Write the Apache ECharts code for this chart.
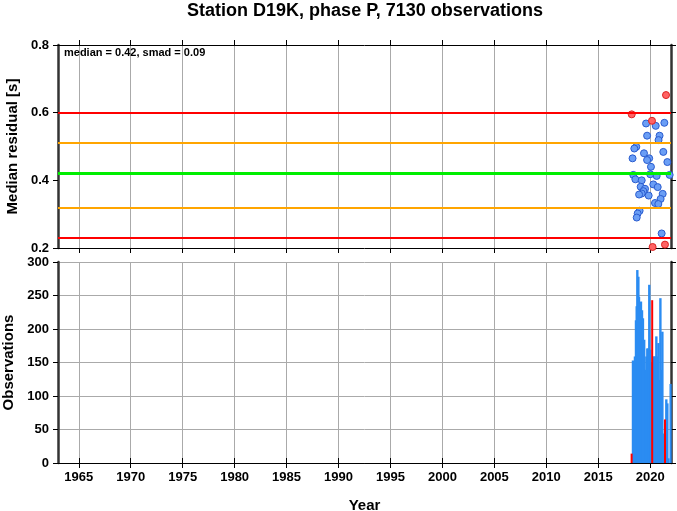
<!DOCTYPE html>
<html><head><meta charset="utf-8">
<script src="https://cdn.jsdelivr.net/npm/echarts@6/dist/echarts.min.js"></script>
<style>html,body{margin:0;padding:0;background:#fff}#c{width:677px;height:511px}</style>
</head><body><div id="c"></div>
<script>
const titleText = 'Station D19K, phase P, 7130 observations';
const annotationText = 'median = 0.42, smad = 0.09';
const medianValue = 0.416;
const smadValue = 0.092;
const yearTicks = [1965,1970,1975,1980,1985,1990,1995,2000,2005,2010,2015,2020];

const blueYears = [2019.6,2020.53,2021.36,2019.7,2020.9,2020.8,2018.66,2018.47,2021.26,2019.4,2018.3,2019.9,2019.7,2021.65,2020.07,2018.37,2020.0,2020.62,2021.87,2018.57,2019.18,2020.3,2019.08,2020.72,2019.5,2019.34,2019.18,2018.93,2019.85,2021.2,2021.0,2020.46,2020.78,2018.98,2018.79,2018.70,2021.1];
const blueResiduals = [0.568,0.561,0.570,0.532,0.532,0.519,0.499,0.494,0.484,0.480,0.465,0.465,0.460,0.454,0.440,0.416,0.418,0.413,0.416,0.403,0.400,0.388,0.381,0.380,0.375,0.368,0.361,0.358,0.355,0.360,0.345,0.333,0.330,0.310,0.302,0.290,0.243];
const redYears = [2021.52,2018.22,2020.17,2020.23,2021.42];
const redResiduals = [0.652,0.595,0.576,0.203,0.210];

const blueBarYears = [2018.32,2018.42,2018.51,2018.61,2018.68,2018.74,2018.84,2018.90,2018.99,2019.09,2019.19,2019.28,2019.40,2019.51,2019.61,2019.70,2019.80,2019.89,2019.99,2020.07,2020.28,2020.38,2020.48,2020.57,2020.67,2020.77,2020.86,2020.96,2021.05,2021.15,2021.24,2021.53,2021.63,2021.73,2021.95];
const blueBarCounts = [153,121,159,213,234,288,278,248,228,241,228,216,184,139,159,171,171,266,169,150,159,159,159,189,159,179,124,246,139,196,44,95,89,7,118];
const redBarYears = [2018.21,2020.19,2021.42];
const redBarCounts = [14,243,65];

const zip = (a, b) => a.map((v, i) => [v, b[i]]);
const FONT = 'Liberation Sans';
const tickStyle = {show: true, inside: false, length: 5, lineStyle: {color: '#000', width: 1}};
const frameX = {show: true, lineStyle: {color: '#000', width: 1}};
const frameY = {show: true, lineStyle: {color: '#333', width: 2.5}};
const gridLine = {show: true, lineStyle: {color: '#aaa', width: 1}};
const labelStyle = {color: '#000', fontFamily: FONT, fontWeight: 'bold', fontSize: 13};
const nameStyle = {color: '#000', fontFamily: FONT, fontWeight: 'bold', fontSize: 15};

function xAxisDef(gridIndex, position, withLabels, withSplit) {
  return {
    type: 'value', gridIndex, position, min: 1963, max: 2022,
    splitNumber: 12, minInterval: 5, maxInterval: 5,
    axisLine: frameX,
    axisTick: Object.assign({}, tickStyle, {customValues: yearTicks}),
    axisLabel: withLabels ? Object.assign({}, labelStyle, {margin: 8, customValues: yearTicks, formatter: v => String(v)}) : {show: false},
    splitLine: withSplit ? gridLine : {show: false},
    name: withLabels ? 'Year' : '', nameLocation: 'middle', nameGap: 35, nameTextStyle: nameStyle
  };
}
function yAxisDef(gridIndex, position, min, max, interval, withLabels, withSplit, name, fmt) {
  return {
    type: 'value', gridIndex, position, min, max, interval,
    axisLine: frameY,
    axisTick: tickStyle,
    axisLabel: withLabels ? Object.assign({}, labelStyle, {margin: 9, formatter: fmt}) : {show: false},
    splitLine: withSplit ? gridLine : {show: false},
    name: name || '', nameLocation: 'middle', nameGap: 38, nameTextStyle: nameStyle
  };
}

const chart = echarts.init(document.getElementById('c'), null, {renderer: 'canvas'});
const limitLine = (v, color, w) => ({yAxis: v, lineStyle: {color, width: w, type: 'solid'}});
chart.setOption({
  animation: false,
  backgroundColor: '#fff',
  grid: [
    {left: 58, right: 6, top: 45, height: 203, containLabel: false, outerBoundsMode: 'none'},
    {left: 58, right: 6, top: 262, height: 201, containLabel: false, outerBoundsMode: 'none'}
  ],
  xAxis: [
    xAxisDef(0, 'bottom', false, true),
    xAxisDef(0, 'top', false, false),
    xAxisDef(1, 'bottom', true, true),
    xAxisDef(1, 'top', false, false)
  ],
  yAxis: [
    yAxisDef(0, 'left', 0.2, 0.8, 0.2, true, false, 'Median residual [s]', v => v.toFixed(1)),
    yAxisDef(0, 'right', 0.2, 0.8, 0.2, false, false),
    yAxisDef(1, 'left', 0, 300, 50, true, true, 'Observations', v => String(v)),
    yAxisDef(1, 'right', 0, 300, 50, false, false)
  ],
  graphic: [
    {type: 'text', x: 365, y: 11, style: {text: titleText, textAlign: 'center', textVerticalAlign: 'middle', font: 'bold 18px "Liberation Sans"', fill: '#000'}},
    {type: 'text', x: 64, y: 53, z: 10, style: {text: annotationText, textAlign: 'left', textVerticalAlign: 'middle', font: 'bold 11px "Liberation Sans"', fill: '#000'}}
  ],
  series: [
    {
      type: 'line', xAxisIndex: 0, yAxisIndex: 0, data: [], z: 1, silent: true,
      markLine: {
        silent: true, symbol: ['none', 'none'], label: {show: false}, animation: false,
        data: [
          limitLine(medianValue + 2 * smadValue, '#ff0000', 2),
          limitLine(medianValue + smadValue, '#ffa500', 2),
          limitLine(medianValue, '#00ee00', 3),
          limitLine(medianValue - smadValue, '#ffa500', 2),
          limitLine(medianValue - 2 * smadValue, '#ff0000', 2)
        ]
      }
    },
    {
      type: 'scatter', xAxisIndex: 0, yAxisIndex: 0, z: 3, symbolSize: 7,
      data: zip(blueYears, blueResiduals),
      itemStyle: {color: '#6a9ef5', borderColor: '#2a5ccf', borderWidth: 1, opacity: 1}
    },
    {
      type: 'scatter', xAxisIndex: 0, yAxisIndex: 0, z: 4, symbolSize: 7,
      data: zip(redYears, redResiduals),
      itemStyle: {color: '#ff6464', borderColor: '#dd2222', borderWidth: 1, opacity: 1}
    },
    {
      type: 'bar', xAxisIndex: 2, yAxisIndex: 2, z: 3, barWidth: 2.4, barGap: '-100%',
      data: zip(blueBarYears, blueBarCounts),
      itemStyle: {color: '#2b8cf2'}
    },
    {
      type: 'bar', xAxisIndex: 2, yAxisIndex: 2, z: 4, barWidth: 2, barGap: '-100%',
      data: zip(redBarYears, redBarCounts),
      itemStyle: {color: '#ff0000'}
    }
  ]
});
</script>
</body></html>
